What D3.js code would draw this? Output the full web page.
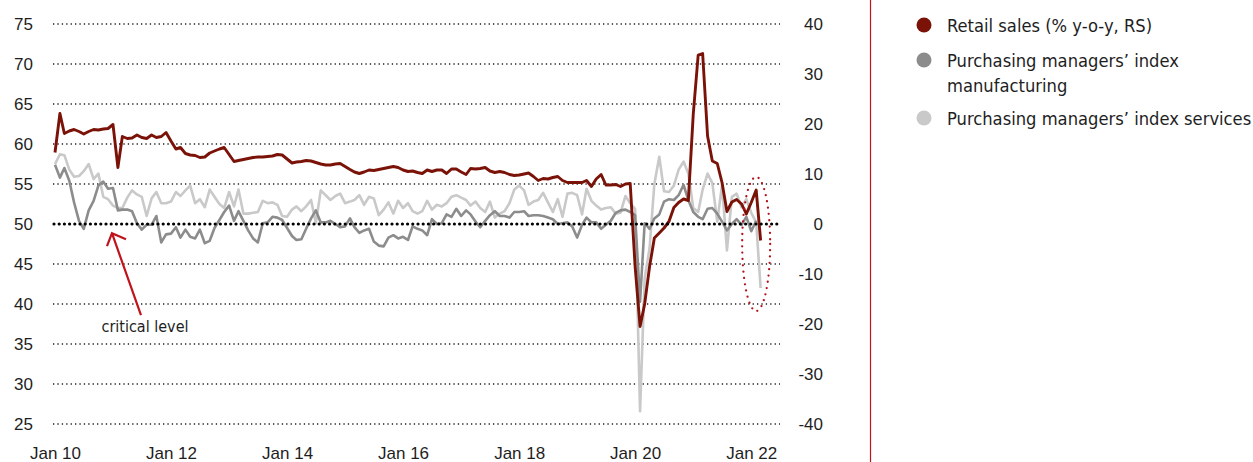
<!DOCTYPE html>
<html>
<head>
<meta charset="utf-8">
<script src="https://cdn.jsdelivr.net/npm/d3@7"></script>
<style>
  body { margin: 0; background: #fff; }
  svg { display: block; font-family: "DejaVu Sans Condensed", "DejaVu Sans", sans-serif; }
</style>
</head>
<body>
<svg id="chart" width="1253" height="462"></svg>
<script>
// monthly data, first value = Jan 2010
const startMonth = new Date(2010, 0, 1);

// retail sales, % y-o-y (right scale)
const retailSales = [
  14.3, 22.1, 18.1, 18.6, 18.9, 18.5, 18.0, 18.5, 18.9, 18.8, 19.0, 19.1,
  19.9, 11.3, 17.5, 17.1, 17.2, 17.8, 17.3, 17.1, 17.8, 17.3, 17.5, 18.3,
  16.6, 15.0, 15.3, 14.1, 13.8, 13.7, 13.3, 13.4, 14.2, 14.6, 15.0, 15.3,
  13.9, 12.5, 12.7, 12.9, 13.1, 13.3, 13.4, 13.4, 13.5, 13.6, 13.9, 13.8,
  13.0, 12.2, 12.4, 12.5, 12.7, 12.6, 12.3, 12.0, 11.8, 11.8, 12.0, 12.1,
  11.5, 10.9, 10.4, 10.1, 10.4, 10.8, 10.7, 10.9, 11.1, 11.3, 11.5, 11.3,
  10.8, 10.5, 10.6, 10.3, 10.1, 10.8, 10.5, 10.8, 10.8, 10.1, 11.0, 11.0,
  10.4, 9.9, 11.1, 11.0, 11.1, 11.3, 10.6, 10.3, 10.5, 10.3, 9.9, 9.7,
  9.8, 10.0, 10.2, 9.5, 8.7, 9.1, 9.0, 9.3, 9.5, 8.7, 8.3, 8.3,
  8.3, 8.3, 8.7, 7.5, 9.0, 9.9, 7.8, 7.8, 7.9, 7.5, 8.0, 8.1,
  -8.5, -20.5, -16.0, -8.5, -2.8, -1.8, -0.8, 0.5, 3.3, 4.3, 5.0, 4.7,
  22.0, 33.8, 34.1, 17.6, 12.6, 12.1, 8.3, 2.5, 4.4, 4.9, 4.0, 2.0,
  4.3, 6.8, -3.3
];

// PMI manufacturing (left scale)
const pmiManufacturing = [
  57.4, 55.8, 57.0, 55.4, 52.7, 50.4, 49.4, 51.7, 52.9, 54.8, 55.3, 54.4,
  54.5, 51.7, 51.8, 51.8, 51.6, 50.1, 49.3, 49.9, 49.9, 51.0, 47.7, 48.7,
  48.8, 49.6, 48.3, 49.3, 48.4, 48.2, 49.3, 47.6, 47.9, 49.5, 50.5, 51.5,
  52.3, 50.4, 51.6, 50.4, 49.2, 48.2, 47.7, 50.1, 50.2, 50.9, 50.8, 50.5,
  49.5, 48.5, 48.0, 48.1, 49.4, 50.7, 51.7, 50.2, 50.2, 50.4, 50.0, 49.6,
  49.7, 50.7, 49.6, 48.9, 49.2, 49.4, 47.8, 47.3, 47.2, 48.3, 48.6, 48.2,
  48.4, 48.0, 49.7, 49.4, 49.2, 48.6, 50.6, 50.0, 50.1, 51.2, 50.9, 51.9,
  51.0, 51.7, 51.2, 50.3, 49.6, 50.4, 51.1, 51.6, 51.0, 51.0, 50.8, 51.5,
  51.5, 51.6, 51.0, 51.1, 51.1, 51.0, 50.8, 50.6, 50.0, 50.1, 50.2, 49.7,
  48.3, 49.9, 50.8, 50.2, 50.2, 49.4, 49.9, 50.4, 51.4, 51.7, 51.8, 51.5,
  51.1, 40.3, 50.1, 49.4, 50.7, 51.2, 52.8, 53.1, 53.0, 53.6, 54.9, 53.0,
  51.5, 50.9, 50.6, 51.9, 52.0, 51.3, 50.3, 49.2, 50.0, 50.6, 49.9, 50.9,
  49.1, 50.4
];

// PMI services (left scale)
const pmiServices = [
  57.5, 58.7, 58.6, 56.8, 55.9, 56.0, 56.6, 57.5, 55.6, 56.3, 53.4, 53.1,
  52.3, 52.0, 52.0, 53.3, 54.2, 53.7, 53.4, 51.0, 53.2, 54.0, 52.6, 52.6,
  52.8, 54.0, 53.5, 54.2, 54.8, 52.6, 53.1, 52.1, 54.3, 53.4, 52.5, 52.0,
  54.0, 52.2, 54.3, 51.3, 51.3, 51.4, 51.5, 52.9, 52.6, 52.7, 52.4, 51.0,
  50.9, 51.8, 52.2, 51.6, 52.2, 53.0, 50.1, 54.2, 53.6, 53.0, 53.5, 53.8,
  52.6, 52.8, 53.0, 53.6, 52.4, 53.4, 53.2, 51.1, 51.8, 52.7, 51.3, 52.9,
  52.0, 52.6, 51.6, 51.3, 51.6, 52.9, 51.8, 52.4, 52.2, 52.6, 53.4, 53.6,
  53.3, 53.0, 52.3, 52.8, 52.0, 51.5, 52.8, 50.8, 51.3, 51.6, 52.6, 54.3,
  54.8, 54.2, 52.4, 52.8, 53.0, 53.9, 52.7, 51.5, 53.1, 50.9, 53.8, 53.9,
  53.6, 51.2, 54.4, 52.9, 52.3, 51.8, 52.0, 52.1, 51.3, 51.4, 53.5, 52.6,
  51.9, 26.6, 43.2, 47.0, 55.0, 58.4, 54.1, 54.0, 54.8, 56.8, 57.8, 56.3,
  52.0, 51.5, 54.3, 56.3, 55.1, 50.3, 54.9, 46.7, 53.4, 53.8, 52.1, 53.1,
  51.4, 50.2, 42.0
];

const leftTicks = [25, 30, 35, 40, 45, 50, 55, 60, 65, 70, 75];
const rightTicks = [-40, -30, -20, -10, 0, 10, 20, 30, 40];
const tickYears = [2010, 2012, 2014, 2016, 2018, 2020, 2022];
const criticalLevel = 50;

const legendLabels = [
  ["Retail sales (% y-o-y, RS)"],
  ["Purchasing managers’ index", "manufacturing"],
  ["Purchasing managers’ index services"]
];
const annotationText = "critical level";

// styles
const colors = {
  retail: "#7a1208",
  manufacturing: "#8c8c8c",
  services: "#c9c9c9",
  accent: "#c0141c",
  text: "#1e1e1e"
};

const svg = d3.select("#chart");

const x = d3.scaleTime()
  .domain([startMonth, new Date(2022, 6, 1)])
  .range([55, 780]);
const yLeft = d3.scaleLinear().domain([25, 75]).range([424, 24]);
const yRight = d3.scaleLinear().domain([-40, 40]).range([424, 24]);

const monthDate = i => d3.timeMonth.offset(startMonth, i);

// dotted grid
svg.append("g")
  .selectAll("line")
  .data(leftTicks.filter(t => t !== criticalLevel))
  .join("line")
  .attr("x1", 53).attr("x2", 780)
  .attr("y1", d => yLeft(d)).attr("y2", d => yLeft(d))
  .attr("stroke", "#222")
  .attr("stroke-width", 1.3)
  .attr("stroke-dasharray", "1.3,3.1");

// axes
const leftAxis = svg.append("g")
  .attr("transform", "translate(36,0)")
  .call(d3.axisLeft(yLeft).tickValues(leftTicks).tickSize(0).tickPadding(3));

const rightAxis = svg.append("g")
  .attr("transform", "translate(826,0)")
  .call(d3.axisLeft(yRight).tickValues(rightTicks)
    .tickFormat(d => String(d))   // plain hyphen as in the original
    .tickSize(0).tickPadding(3));

const xAxis = svg.append("g")
  .attr("transform", "translate(0,441)")
  .call(d3.axisBottom(x)
    .tickValues(tickYears.map(y => new Date(y, 0, 1)))
    .tickFormat(d3.timeFormat("Jan %y"))
    .tickSize(0).tickPadding(6));

[leftAxis, rightAxis, xAxis].forEach(g => {
  g.select(".domain").remove();
  g.selectAll("text")
    .attr("fill", colors.text)
    .style("font-size", "17px")
    .style("font-family", "inherit");
});

// series
const lineLeft = d3.line()
  .x((d, i) => x(monthDate(i)))
  .y(d => yLeft(d));
const lineRight = d3.line()
  .x((d, i) => x(monthDate(i)))
  .y(d => yRight(d));

svg.append("path")
  .datum(pmiServices)
  .attr("d", lineLeft)
  .attr("fill", "none")
  .attr("stroke", colors.services)
  .attr("stroke-width", 2.6)
  .attr("stroke-linejoin", "round");

svg.append("path")
  .datum(pmiManufacturing)
  .attr("d", lineLeft)
  .attr("fill", "none")
  .attr("stroke", colors.manufacturing)
  .attr("stroke-width", 2.6)
  .attr("stroke-linejoin", "round");

svg.append("path")
  .datum(retailSales)
  .attr("d", lineRight)
  .attr("fill", "none")
  .attr("stroke", colors.retail)
  .attr("stroke-width", 2.9)
  .attr("stroke-linejoin", "round");

// bold dotted 50 line
svg.append("line")
  .attr("x1", 54).attr("x2", 780)
  .attr("y1", yLeft(criticalLevel)).attr("y2", yLeft(criticalLevel))
  .attr("stroke", "#000")
  .attr("stroke-width", 3.2)
  .attr("stroke-linecap", "round")
  .attr("stroke-dasharray", "0,5.2");

// arrow to the critical level
const tipX = x(new Date(2011, 0, 1)) - 1;
const tipY = yLeft(48.85);
svg.append("path")
  .attr("d", `M${tipX + 29},${tipY + 82} L${tipX},${tipY} M${tipX - 5},${tipY + 13} L${tipX},${tipY} L${tipX + 14},${tipY + 6}`)
  .attr("fill", "none")
  .attr("stroke", colors.accent)
  .attr("stroke-width", 2.2);

svg.append("text")
  .attr("x", 145).attr("y", 332)
  .attr("text-anchor", "middle")
  .attr("fill", colors.text)
  .style("font-size", "16px")
  .text(annotationText);

// dotted ellipse around latest data
svg.append("ellipse")
  .attr("cx", x(new Date(2022, 1, 1)))
  .attr("cy", yRight(-4))
  .attr("rx", 14).attr("ry", 67)
  .attr("fill", "none")
  .attr("stroke", "#b3121a")
  .attr("stroke-width", 2.3)
  .attr("stroke-linecap", "round")
  .attr("stroke-dasharray", "0,6.3");

// separator
svg.append("line")
  .attr("x1", 870.5).attr("x2", 870.5)
  .attr("y1", 0).attr("y2", 462)
  .attr("stroke", colors.accent)
  .attr("stroke-width", 1.2);

// legend
const legendColors = [colors.retail, colors.manufacturing, colors.services];
const legendY = [25, 60, 118];
const legend = svg.append("g");
legendLabels.forEach((lines, i) => {
  legend.append("circle")
    .attr("cx", 924).attr("cy", legendY[i]).attr("r", 7.5)
    .attr("fill", legendColors[i]);
  const t = legend.append("text")
    .attr("x", 947).attr("y", legendY[i] + 6.5)
    .attr("fill", colors.text)
    .style("font-size", "18.2px");
  lines.forEach((l, j) => {
    t.append("tspan").attr("x", 947).attr("dy", j === 0 ? 0 : 25).text(l);
  });
});
</script>
</body>
</html>
